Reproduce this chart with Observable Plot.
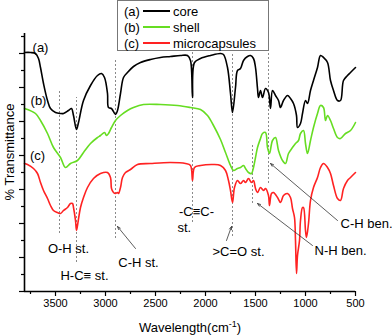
<!DOCTYPE html>
<html><head><meta charset="utf-8">
<script src="https://cdn.jsdelivr.net/npm/d3@7"></script>
<script src="https://cdn.jsdelivr.net/npm/@observablehq/plot@0.6"></script>
<style>
html,body{margin:0;padding:0;background:#fff;}
#chart{width:392px;height:336px;}
</style></head>
<body><div id="chart"></div>
<script>
// Series: [wavenumber (cm-1), transmittance (arbitrary, offset)]
const coreSpectrum = [
[3810,239],[3750,239],[3700,238],[3670,233],[3650,224],[3620,208],[3580,191],[3550,183],[3500,179],[3450,178],[3420,178],[3370,181],[3340,183],[3320,176],[3290,162],[3270,169],[3220,191],[3150,206],[3080,216],[3040,218],[3010,214],[2980,198],[2970,184],[2940,183],[2900,177],[2880,181],[2850,198],[2820,214],[2780,219],[2720,225],[2650,229],[2550,232],[2450,234],[2350,235],[2250,236],[2180,236],[2150,231],[2130,194],[2110,229],[2050,233],[1950,236],[1850,238],[1820,237],[1780,224],[1750,198],[1730,179],[1700,204],[1680,221],[1650,223],[1620,231],[1580,235],[1550,236],[1520,233],[1500,224],[1480,203],[1470,194],[1450,201],[1430,194],[1400,203],[1370,199],[1350,183],[1330,201],[1300,196],[1270,191],[1250,184],[1220,191],[1180,196],[1150,193],[1120,188],[1090,176],[1080,164],[1050,168],[1030,178],[1000,191],[980,188],[950,201],[920,211],[880,224],[850,236],[820,234],[780,229],[750,211],[720,201],[680,191],[650,191],[620,211],[580,216],[550,219],[500,224]];
const shellSpectrum = [
[3810,183],[3700,178],[3650,171],[3580,158],[3520,144],[3450,134],[3400,124],[3350,128],[3280,131],[3220,139],[3150,148],[3080,154],[3050,156],[3010,159],[2990,156],[2970,158],[2940,164],[2900,171],[2850,176],[2780,181],[2720,184],[2620,187],[2450,187],[2280,186],[2150,184],[2050,182],[1980,176],[1920,166],[1850,152],[1800,139],[1750,126],[1720,121],[1680,123],[1650,124],[1620,126],[1600,123],[1570,119],[1540,118],[1520,124],[1500,134],[1480,144],[1450,153],[1430,158],[1400,159],[1380,144],[1360,138],[1330,151],[1300,154],[1270,141],[1230,131],[1200,128],[1170,138],[1130,144],[1100,148],[1070,151],[1050,158],[1020,161],[1000,148],[980,138],[950,151],[920,164],[880,178],[850,186],[820,184],[800,171],[780,176],[750,171],[720,163],[680,154],[650,153],[600,158],[550,161],[500,169]];
const capsuleSpectrum = [
[3810,128],[3780,127],[3720,123],[3680,118],[3650,109],[3620,101],[3580,93],[3550,86],[3520,81],[3480,79],[3450,78],[3420,81],[3380,84],[3350,88],[3330,88],[3320,84],[3300,71],[3290,61],[3280,66],[3250,84],[3220,94],[3180,104],[3120,113],[3050,118],[2980,119],[2950,114],[2940,103],[2920,99],[2900,98],[2880,99],[2870,98],[2850,104],[2830,114],[2800,119],[2750,122],[2680,127],[2550,128],[2350,129],[2200,128],[2150,126],[2130,111],[2110,124],[2050,126],[1920,127],[1850,126],[1800,121],[1770,111],[1750,101],[1730,89],[1710,104],[1680,111],[1650,108],[1620,111],[1600,109],[1570,113],[1540,109],[1520,111],[1500,103],[1480,99],[1450,104],[1420,101],[1400,103],[1370,96],[1360,86],[1340,98],[1320,99],[1280,94],[1250,89],[1220,96],[1180,98],[1150,94],[1130,83],[1110,74],[1100,51],[1090,18],[1080,36],[1060,51],[1050,71],[1030,84],[1020,84],[1000,61],[990,54],[970,68],[950,91],[920,104],[880,114],[850,124],[820,128],[780,124],[750,118],[720,106],[680,93],[650,91],[620,103],[580,111],[550,114],[500,119]];

const seriesNames = ["core","shell","microcapsules"];
const seriesTags = ["(a)","(b)","(c)"];
const seriesColors = ["#000000","#66dd22","#ff2222"];
const seriesTagX = [3650,3670,3680];
const seriesTagY = [244,191,136];

const xTicks = [3500,3000,2500,2000,1500,1000,500];
const xMinorTicks = [3750,3250,2750,2250,1750,1250,750];
const yMajorTicks = [0,34,68,102,136,170,204,238];
const yMinorTicks = [17,51,85,119,153,187,221,255];

// Band markers (dotted guides)
const bandX = [3460,3290,2900,2130,1730,1530,1370];
const bandTop = [200,194,233,241,238,146,248];
const bandBottom = [58,29,53,69,55,88,108];

// Annotation labels
const noteText = ["O-H st.","H-C\u2261 st.","C-H st.","-C\u2261C-",">C=O st."];
const noteX = [3370,3210,2670,2090,1670];
const noteY = [43,16,29,80,40];
const noteLeftText = ["st.","N-H ben.","C-H ben."];
const noteLeftX = [2280,910,650];
const noteLeftY = [64,41,68];
// Annotation arrows
const arrowFromX = [2700,1790,930,680];
const arrowFromY = [43,51,46,71];
const arrowToX = [2880,1740,1480,1350];
const arrowToY = [65,65,88,128];

const toRows = (a) => a.map(([x,y]) => ({x,y}));
const spectra = [coreSpectrum, shellSpectrum, capsuleSpectrum];
const bands = bandX.map((v,i)=>({v, y1:bandBottom[i], y2:bandTop[i]}));
const notes = noteText.map((t,i)=>({t, x:noteX[i], y:noteY[i]}));
const notesLeft = noteLeftText.map((t,i)=>({t, x:noteLeftX[i], y:noteLeftY[i]}));
const arrows = arrowFromX.map((x,i)=>({x1:x, y1:arrowFromY[i], x2:arrowToX[i], y2:arrowToY[i]}));
const tags = seriesTags.map((t,i)=>({t, x:seriesTagX[i], y:seriesTagY[i]}));

const FONT = "'Liberation Sans', Arial, sans-serif";

const plot = Plot.plot({
  width: 392, height: 336,
  marginLeft: 24, marginRight: 37, marginTop: 33, marginBottom: 45,
  style: {fontFamily: FONT, fontSize: "11px", color: "#000", background: "#fff"},
  x: {domain: [3810, 500]},
  y: {domain: [0, 258]},
  marks: [
    Plot.ruleX(bands, {x:"v", y1:"y1", y2:"y2", stroke:"#8a8a8a", strokeWidth:1, strokeDasharray:"2,2"}),
    ...spectra.map((s,i)=>Plot.line(toRows(s), {x:"x", y:"y", stroke: seriesColors[i], strokeWidth: 1.6, curve:"catmull-rom"})),
    Plot.text(notes, {x:"x", y:"y", text:"t", fontSize:13, fill:"#000"}),
    Plot.text(notesLeft, {x:"x", y:"y", text:"t", fontSize:13, fill:"#000", textAnchor:"start"}),
    Plot.arrow(arrows, {x1:"x1", y1:"y1", x2:"x2", y2:"y2", stroke:"#333", strokeWidth:0.8, headLength:6, headAngle:40}),
    Plot.text(tags, {x:"x", y:"y", text:"t", fontSize:13, fill:"#000"}),
    Plot.axisX({ticks: xTicks, tickSize: 5, tickPadding: 3, fontSize: 11, label: null, tickFormat: d=>String(d), strokeWidth: 1.2}),
    Plot.axisX({ticks: xMinorTicks, tickSize: 3, text: null, label: null, strokeWidth: 1.2}),
    Plot.axisY({ticks: yMajorTicks, tickSize: 5, text: null, label: null, strokeWidth: 1.2}),
    Plot.axisY({ticks: yMinorTicks, tickSize: 3, text: null, label: null, strokeWidth: 1.2}),
    Plot.ruleY([0], {stroke:"#000", strokeWidth:1.6}),
    Plot.ruleX([3810], {stroke:"#000", strokeWidth:1.6})
  ]
});
document.getElementById("chart").appendChild(plot);

// Titles and legend
const svg = d3.select(plot);
const xt = svg.append("text").attr("x", 190).attr("y", 332).attr("text-anchor","middle")
  .attr("font-family", FONT).attr("font-size", 13).attr("fill","#000");
xt.append("tspan").text("Wavelength(cm");
xt.append("tspan").attr("dy", -5).attr("font-size", 9).text("-1");
xt.append("tspan").attr("dy", 5).text(")");
svg.append("text").attr("transform","translate(14,152) rotate(-90)").attr("text-anchor","middle")
  .attr("font-family", FONT).attr("font-size", 13).attr("fill","#000").text("% Transmittance");

const lg = svg.append("g");
lg.append("rect").attr("x",117.5).attr("y",0.5).attr("width",151).attr("height",50)
  .attr("fill","#fff").attr("stroke","#777").attr("stroke-width",1);
seriesNames.forEach((n,i)=>{
  const cy = 11 + i*16;
  lg.append("text").attr("x",124).attr("y",cy).attr("dy","0.35em").attr("text-anchor","start")
    .attr("font-family",FONT).attr("font-size",13).attr("fill","#000").text(seriesTags[i]);
  lg.append("line").attr("x1",143).attr("x2",170).attr("y1",cy).attr("y2",cy).attr("stroke",seriesColors[i]).attr("stroke-width",2);
  lg.append("text").attr("x",173).attr("y",cy).attr("dy","0.35em").attr("text-anchor","start")
    .attr("font-family",FONT).attr("font-size",13).attr("fill","#000").text(n);
});
</script>
</body></html>
